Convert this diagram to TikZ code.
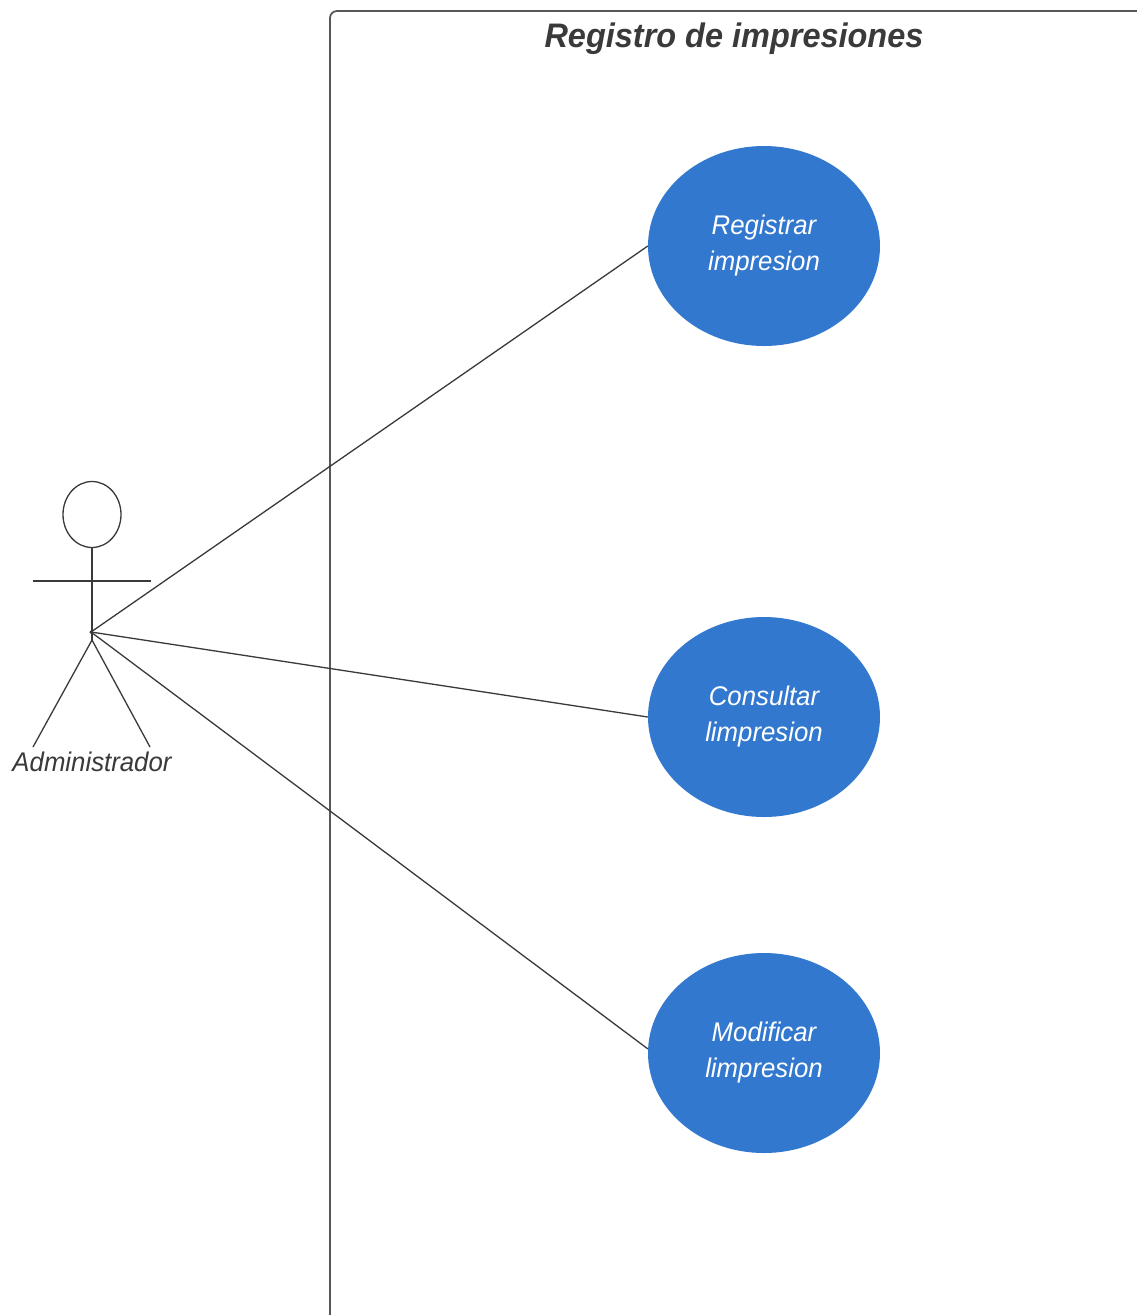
\documentclass[tikz,border=0pt]{standalone}
\usepackage{fontspec}
\setmainfont{Liberation Sans}
\newfontfamily\condfont[FakeStretch=0.955]{Liberation Sans}
\usetikzlibrary{shapes.geometric}
\definecolor{ucblue}{HTML}{3278CE}
\definecolor{ink}{HTML}{3A3A3A}
\tikzset{
  x=1pt,y=-1pt,
  ln/.style={draw=ink,line width=1.3pt},
  usecase/.style={ellipse,fill=ucblue,draw=none,minimum width=232pt,minimum height=200pt,inner sep=0pt,text=white,font=\condfont\itshape\fontsize{27}{36}\selectfont,align=center},
  joint/.style={circle,fill=ink,inner sep=0pt,minimum size=3.5pt},
}
\begin{document}
\begin{tikzpicture}
\useasboundingbox (0,0) rectangle (1136,1315);
\fill[white] (0,0) rectangle (1136,1315);
\draw[draw=ink!85,line width=1.8pt,rounded corners=7pt] (330,1345) -- (330,11) -- (1165,11);
\node[font=\condfont\bfseries\itshape\fontsize{34}{40}\selectfont,text=ink] (title) at (734,39) {Registro de impresiones};
\node[usecase] (uc1) at (764,246) {Registrar\\impresion};
\node[usecase] (uc2) at (764,717) {Consultar\\limpresion};
\node[usecase] (uc3) at (764,1053) {Modificar\\limpresion};
% actor
\node[ellipse,draw=ink,line width=1.3pt,minimum width=58pt,minimum height=66pt,inner sep=0pt] (head) at (92,514.5) {};
\node[joint] (hub) at (91,632) {};
\coordinate (hip) at (92,640);
\coordinate (armL) at (33,581);
\coordinate (armR) at (151,581);
\coordinate (footL) at (33,747);
\coordinate (footR) at (150,747);
\draw[ln] (head.south) -- (hip);
\draw[ln] (armL) -- (armR);
\draw[ln] (hip) -- (footL);
\draw[ln] (hip) -- (footR);
\node[font=\condfont\itshape\fontsize{27}{32}\selectfont,text=ink] (actor) at (92,762) {Administrador};
\draw[ln] (hub.center) -- (uc1.west);
\draw[ln] (hub.center) -- (uc2.west);
\draw[ln] (hub.center) -- (uc3.178.5);
\end{tikzpicture}
\end{document}
